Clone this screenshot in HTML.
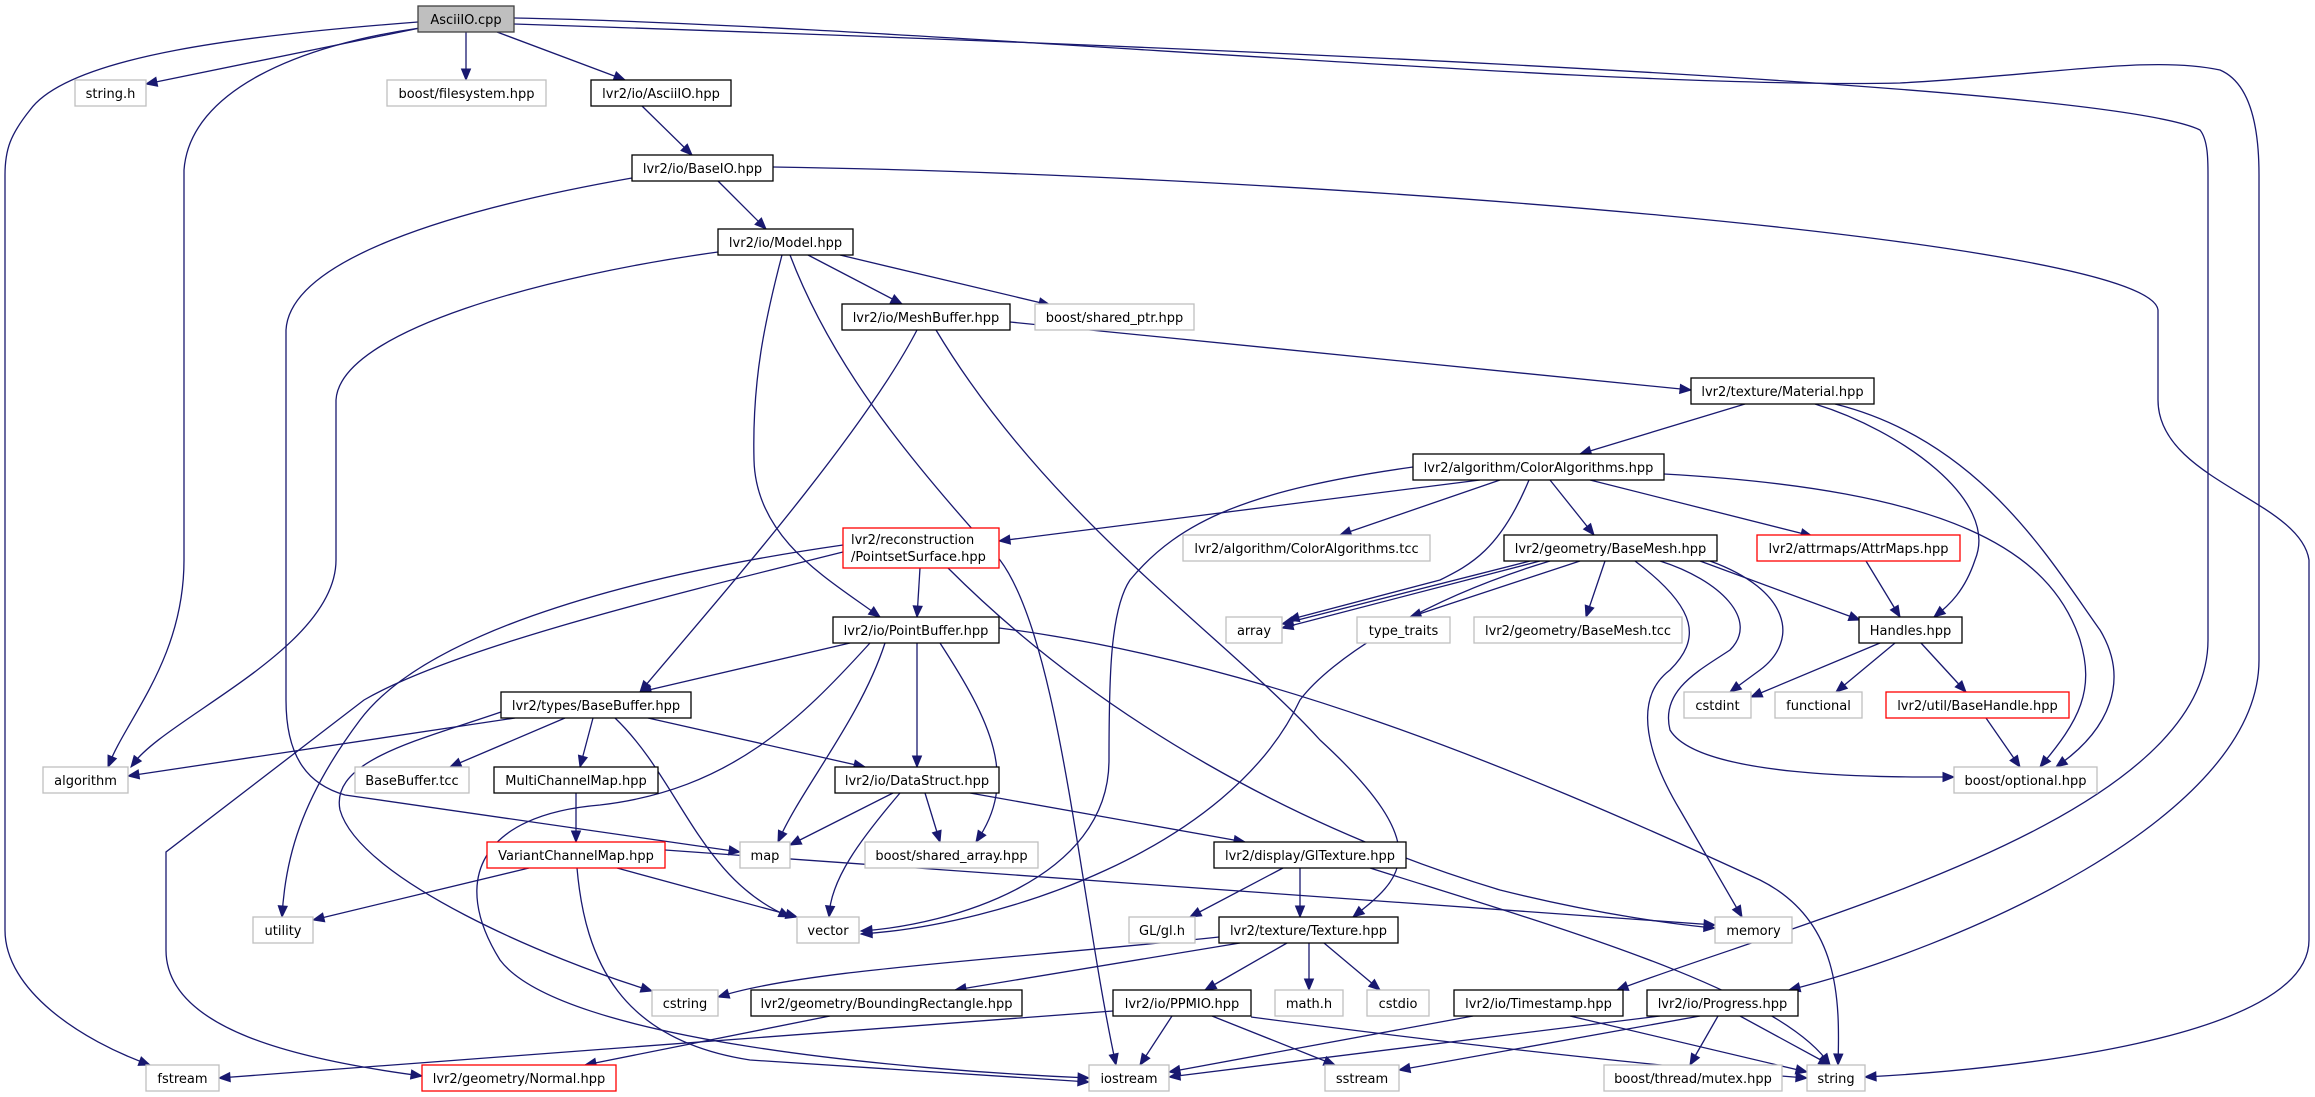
<!DOCTYPE html>
<html><head><meta charset="utf-8">
<style>
html,body{margin:0;padding:0;background:#fff;}
svg{display:block;}
text{font-family:"DejaVu Sans","Liberation Sans",sans-serif;font-size:13px;fill:#000;}
</style></head>
<body>
<svg id="g" xmlns="http://www.w3.org/2000/svg" width="2315" height="1097" viewBox="0 0 2315 1097">
<g id="edges" fill="none" stroke="#191970" stroke-width="1.3"></g>
<g id="arrows" fill="#191970" stroke="#191970" stroke-width="1"></g>
<g id="nodes"></g>
</svg>
<script>
var N=[
["AsciiIO.cpp",418,6,514,32,"m"],
["string.h",75,80,146,106,"g"],
["boost/filesystem.hpp",387,80,546,106,"g"],
["lvr2/io/AsciiIO.hpp",591,80,731,106,"b"],
["lvr2/io/BaseIO.hpp",632,155,773,181,"b"],
["lvr2/io/Model.hpp",718,229,853,255,"b"],
["lvr2/io/MeshBuffer.hpp",842,304,1010,330,"b"],
["boost/shared_ptr.hpp",1035,304,1194,330,"g"],
["lvr2/texture/Material.hpp",1691,378,1874,404,"b"],
["lvr2/algorithm/ColorAlgorithms.hpp",1413,454,1664,480,"b"],
["lvr2/reconstruction|/PointsetSurface.hpp",843,528,999,568,"r"],
["lvr2/algorithm/ColorAlgorithms.tcc",1183,535,1430,561,"g"],
["lvr2/geometry/BaseMesh.hpp",1504,535,1717,561,"b"],
["lvr2/attrmaps/AttrMaps.hpp",1757,535,1960,561,"r"],
["lvr2/io/PointBuffer.hpp",833,617,999,643,"b"],
["array",1226,617,1282,643,"g"],
["type_traits",1357,617,1450,643,"g"],
["lvr2/geometry/BaseMesh.tcc",1474,617,1682,643,"g"],
["Handles.hpp",1859,617,1962,643,"b"],
["lvr2/types/BaseBuffer.hpp",501,692,691,718,"b"],
["cstdint",1684,692,1751,718,"g"],
["functional",1775,692,1862,718,"g"],
["lvr2/util/BaseHandle.hpp",1886,692,2069,718,"r"],
["algorithm",43,767,128,793,"g"],
["BaseBuffer.tcc",355,767,469,793,"g"],
["MultiChannelMap.hpp",494,767,658,793,"b"],
["lvr2/io/DataStruct.hpp",835,767,999,793,"b"],
["boost/optional.hpp",1954,767,2097,793,"g"],
["VariantChannelMap.hpp",487,842,665,868,"r"],
["map",740,842,790,868,"g"],
["boost/shared_array.hpp",865,842,1038,868,"g"],
["lvr2/display/GlTexture.hpp",1214,842,1406,868,"b"],
["utility",253,917,313,943,"g"],
["vector",797,917,859,943,"g"],
["GL/gl.h",1129,917,1195,943,"g"],
["lvr2/texture/Texture.hpp",1219,917,1398,943,"b"],
["memory",1715,917,1792,943,"g"],
["cstring",652,990,718,1016,"g"],
["lvr2/geometry/BoundingRectangle.hpp",751,990,1022,1016,"b"],
["lvr2/io/PPMIO.hpp",1113,990,1251,1016,"b"],
["math.h",1275,990,1343,1016,"g"],
["cstdio",1367,990,1429,1016,"g"],
["lvr2/io/Timestamp.hpp",1454,990,1623,1016,"b"],
["lvr2/io/Progress.hpp",1647,990,1798,1016,"b"],
["fstream",146,1065,219,1091,"g"],
["lvr2/geometry/Normal.hpp",422,1065,616,1091,"r"],
["iostream",1089,1065,1169,1091,"g"],
["sstream",1325,1065,1399,1091,"g"],
["boost/thread/mutex.hpp",1604,1065,1782,1091,"g"],
["string",1807,1065,1865,1091,"g"]
];
var E=[
"M420,28 L146,84",
"M466,32 L466,80",
"M497,32 L625,80",
"M418,22 C250,35 70,55 30,110 C10,135 5,150 5,175 L5,930 C5,990 80,1040 150,1065",
"M420,28 C300,45 190,90 184,170 L184,560 C184,660 125,720 108,767",
"M514,24 C1000,40 2100,80 2200,130 C2208,140 2208,160 2208,175 L2208,640 C2208,820 1800,920 1617,990",
"M514,18 C900,25 1600,90 1900,83 C2050,75 2150,55 2220,70 C2255,85 2259,140 2259,175 L2259,660 C2259,820 1950,950 1789,990",
"M642,106 L692,155",
"M718,181 L766,229",
"M632,178 C450,210 290,260 286,330 L286,700 C286,760 310,785 345,795 L740,852",
"M773,167 C1300,175 2150,240 2158,310 L2158,400 C2158,480 2300,500 2309,560 L2309,940 C2309,1040 2000,1070 1865,1077",
"M718,252 C550,275 340,330 336,400 L336,560 C336,650 160,720 131,767",
"M808,255 L902,304",
"M840,255 L1050,305",
"M782,255 C765,320 752,380 754,460 C756,540 830,580 880,617",
"M790,255 C830,360 900,450 1000,560 C1060,640 1080,900 1116,1065",
"M936,330 C1050,520 1230,640 1320,740 C1440,850 1400,880 1353,917",
"M917,330 C860,440 700,620 640,692",
"M1010,322 L1691,390",
"M1745,404 L1580,454",
"M1815,404 C1900,430 2000,500 1975,560 C1965,590 1950,605 1934,617",
"M1835,404 C1980,440 2050,560 2100,630 C2130,680 2110,730 2056,767",
"M1480,480 L999,541",
"M1413,467 C1250,490 1180,520 1130,580 C1110,610 1109,680 1109,760 C1109,880 950,925 861,931",
"M1500,480 L1340,535",
"M1529,480 C1500,550 1470,565 1440,580 L1288,620",
"M1550,480 L1594,535",
"M1590,480 L1812,536",
"M1664,474 C1950,490 2050,550 2080,640 C2095,690 2080,720 2040,767",
"M920,568 L917,617",
"M948,568 C1100,720 1300,830 1500,890 C1600,915 1680,925 1715,928",
"M665,850 L1715,925",
"M843,545 C600,580 420,640 360,720 C300,800 285,860 282,917",
"M843,552 C650,600 450,650 364,700 L166,852 L166,950 C166,1030 300,1060 422,1076",
"M850,643 L640,692",
"M917,643 L917,767",
"M885,643 C860,720 800,790 778,842",
"M940,643 C990,720 1020,780 976,842",
"M870,643 C800,720 730,790 600,805 C480,815 450,880 500,960 C560,1040 900,1070 1089,1078",
"M501,712 C420,740 330,760 340,810 C360,880 550,960 652,991",
"M577,868 C585,960 620,1040 750,1060 L1089,1082",
"M999,628 C1250,660 1500,760 1760,880 C1840,920 1840,1000 1838,1065",
"M515,718 L128,776",
"M565,718 L450,767",
"M593,718 L580,767",
"M648,718 L865,767",
"M615,718 C680,780 700,880 790,917",
"M576,793 L576,842",
"M529,868 L313,920",
"M617,868 L797,917",
"M893,793 L790,845",
"M925,793 L940,842",
"M900,793 C860,840 830,880 829,917",
"M970,793 L1245,842",
"M1283,868 L1190,917",
"M1300,868 L1300,917",
"M1370,868 C1550,925 1780,990 1830,1065",
"M1219,937 C1000,960 800,970 718,997",
"M1240,943 L955,990",
"M1287,943 L1205,990",
"M1309,943 L1309,990",
"M1324,943 L1380,990",
"M830,1016 L585,1065",
"M1113,1011 L219,1078",
"M1172,1016 L1140,1065",
"M1212,1016 L1335,1065",
"M1251,1017 C1500,1050 1700,1070 1807,1078",
"M1473,1016 L1169,1072",
"M1570,1016 L1807,1072",
"M1660,1016 L1169,1077",
"M1700,1016 L1399,1070",
"M1718,1016 L1690,1065",
"M1740,1016 L1830,1065",
"M1530,561 L1282,624",
"M1540,561 L1282,628",
"M1550,561 C1420,600 1330,660 1300,700 C1230,850 1000,925 861,934",
"M1580,561 L1410,617",
"M1605,561 L1586,617",
"M1635,561 C1700,610 1700,640 1670,670 C1630,700 1650,760 1680,810 L1742,917",
"M1660,561 C1720,580 1760,620 1730,650 C1700,670 1660,690 1670,730 C1700,780 1900,777 1954,777",
"M1700,561 L1860,620",
"M1710,561 C1790,590 1800,640 1760,670 L1730,692",
"M1866,561 L1900,617",
"M1880,643 L1751,697",
"M1895,643 L1836,692",
"M1921,643 L1966,692",
"M1986,718 L2020,767"
];
var NS="http://www.w3.org/2000/svg";
var eg=document.getElementById("edges"),ag=document.getElementById("arrows"),ng=document.getElementById("nodes");
E.forEach(function(d){
 var p=document.createElementNS(NS,"path");p.setAttribute("d",d);eg.appendChild(p);
 var L=p.getTotalLength(),a=p.getPointAtLength(L),b=p.getPointAtLength(Math.max(0,L-11));
 var dx=a.x-b.x,dy=a.y-b.y,l=Math.sqrt(dx*dx+dy*dy)||1;dx/=l;dy/=l;
 var bx=a.x-dx*11,by=a.y-dy*11,w=4.5;
 var t=document.createElementNS(NS,"polygon");
 t.setAttribute("points",a.x+","+a.y+" "+(bx-dy*w)+","+(by+dx*w)+" "+(bx+dy*w)+","+(by-dx*w));
 ag.appendChild(t);
});
N.forEach(function(n){
 var r=document.createElementNS(NS,"rect");
 r.setAttribute("x",n[1]);r.setAttribute("y",n[2]);r.setAttribute("width",n[3]-n[1]);r.setAttribute("height",n[4]-n[2]);
 var c={m:["#bfbfbf","#404040"],g:["#fff","#bfbfbf"],b:["#fff","#000"],r:["#fff","#ff0000"]}[n[5]];
 r.setAttribute("fill",c[0]);r.setAttribute("stroke",c[1]);r.setAttribute("stroke-width","1.3");
 ng.appendChild(r);
 var lines=n[0].split("|"),w=n[3]-n[1],cx=(n[1]+n[3])/2;
 lines.forEach(function(s,i){
  var t=document.createElementNS(NS,"text");
  var y=lines.length==1?(n[2]+n[4])/2+5:n[2]+16+i*17;
  var x=lines.length==1?cx:n[1]+8;
  t.setAttribute("x",x);t.setAttribute("y",y);
  if(lines.length==1)t.setAttribute("text-anchor","middle");
  t.textContent=s;ng.appendChild(t);
  var bw=t.getComputedTextLength(),mx=w-16;
  if(bw>mx){t.setAttribute("textLength",mx);t.setAttribute("lengthAdjust","spacingAndGlyphs");}
 });
});
</script>
</body></html>
